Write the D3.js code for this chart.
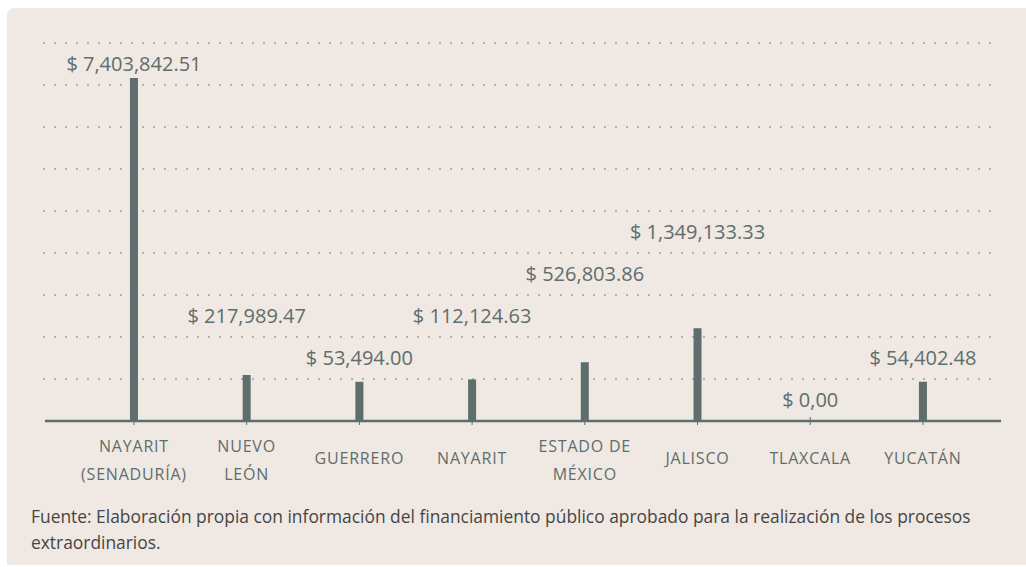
<!DOCTYPE html>
<html lang="es">
<head>
<meta charset="utf-8">
<script src="https://cdn.jsdelivr.net/npm/d3@7/dist/d3.min.js"></script>
<style>
  html, body { margin: 0; padding: 0; background: #ffffff; }
  svg { display: block; }
  text { font-family: "Open Sans", "Noto Sans", sans-serif; }
</style>
</head>
<body>
<svg id="chart" width="1026" height="567"></svg>
<script>
// Financiamiento público aprobado para procesos extraordinarios
const categories = [
  "Nayarit (Senaduría)", "Nuevo León", "Guerrero", "Nayarit",
  "Estado de México", "Jalisco", "Tlaxcala", "Yucatán"
];
const tickLabels = [
  ["NAYARIT", "(SENADURÍA)"], ["NUEVO", "LEÓN"], ["GUERRERO"], ["NAYARIT"],
  ["ESTADO DE", "MÉXICO"], ["JALISCO"], ["TLAXCALA"], ["YUCATÁN"]
];
const amounts = [7403842.51, 217989.47, 53494.00, 112124.63, 526803.86, 1349133.33, 0, 54402.48];
const amountLabels = [
  "$ 7,403,842.51", "$ 217,989.47", "$ 53,494.00", "$ 112,124.63",
  "$ 526,803.86", "$ 1,349,133.33", "$ 0,00", "$ 54,402.48"
];
const sourceLines = [
  "Fuente: Elaboración propia con información del financiamiento público aprobado para la realización de los procesos",
  "extraordinarios."
];

// Layout
const W = 1026, H = 567;
const axisY = 421;
const ink = "#5e6e6d";
// grid row (counted from the axis) in which each amount label sits
const labelRow = [9, 3, 2, 3, 4, 5, 1, 2];

const svg = d3.select("#chart");

// panel background
svg.append("path")
  .attr("d", `M7,${H - 2} L7,16 Q7,8 15,8 L${W},8 L${W},${H - 2} Z`)
  .attr("fill", "#f0e8e2");

const x = d3.scaleBand().domain(categories).range([77.6, 979.3]);
const cx = c => x(c) + x.bandwidth() / 2;

// bar heights start a short stub above the axis
const y = d3.scaleLinear().domain([0, 7403842.51]).range([axisY - 37, 78]);

// evenly spaced dotted guide rows
const rows = d3.scaleLinear().domain([0, 9]).range([axisY, 43]);
svg.append("g")
  .selectAll("line")
  .data(d3.range(1, 10))
  .join("line")
  .attr("x1", 43).attr("x2", 998)
  .attr("y1", d => rows(d)).attr("y2", d => rows(d))
  .attr("stroke", "#b2b2ac")
  .attr("stroke-width", 2)
  .attr("stroke-dasharray", "2 9");

// bars
svg.append("g")
  .selectAll("rect")
  .data(categories.map((c, i) => ({ c, v: amounts[i] })).filter(d => d.v > 0))
  .join("rect")
  .attr("x", d => cx(d.c) - 4)
  .attr("width", 8)
  .attr("y", d => y(d.v))
  .attr("height", d => axisY - y(d.v))
  .attr("fill", ink);

// category axis
const xAxis = d3.axisBottom(x).tickSize(0).tickFormat("");
const gx = svg.append("g").attr("transform", `translate(0,${axisY})`).call(xAxis);
gx.select(".domain").remove();
gx.append("line")
  .attr("x1", 45).attr("x2", 1001)
  .attr("stroke", ink).attr("stroke-width", 2.6);
gx.selectAll(".tick").append("line")
  .attr("y1", -4).attr("y2", 4)
  .attr("stroke", ink).attr("stroke-width", 1);

// category labels
categories.forEach((c, i) => {
  const lines = tickLabels[i];
  const t = svg.append("text")
    .attr("x", cx(c))
    .attr("text-anchor", "middle")
    .attr("fill", ink)
    .attr("font-size", 16)
    .attr("letter-spacing", 0.8);
  const top = lines.length === 1 ? 458.5 : 446.5;
  lines.forEach((ln, k) => {
    t.append("tspan")
      .attr("x", cx(c))
      .attr("y", top + k * 28)
      .attr("dy", "0.35em")
      .text(ln);
  });
});

// amount labels
svg.append("g")
  .selectAll("text")
  .data(categories)
  .join("text")
  .attr("x", d => cx(d))
  .attr("y", (d, i) => rows(labelRow[i] - 0.5))
  .attr("dy", "0.35em")
  .attr("text-anchor", "middle")
  .attr("fill", ink)
  .attr("font-size", 20)
  .text((d, i) => amountLabels[i]);

// source note
svg.append("g")
  .selectAll("text")
  .data(sourceLines)
  .join("text")
  .attr("x", 31)
  .attr("y", (d, i) => 517 + i * 26)
  .attr("dy", "0.35em")
  .attr("fill", "#454545")
  .attr("font-size", 17.4)
  .text(d => d);
</script>
</body>
</html>
